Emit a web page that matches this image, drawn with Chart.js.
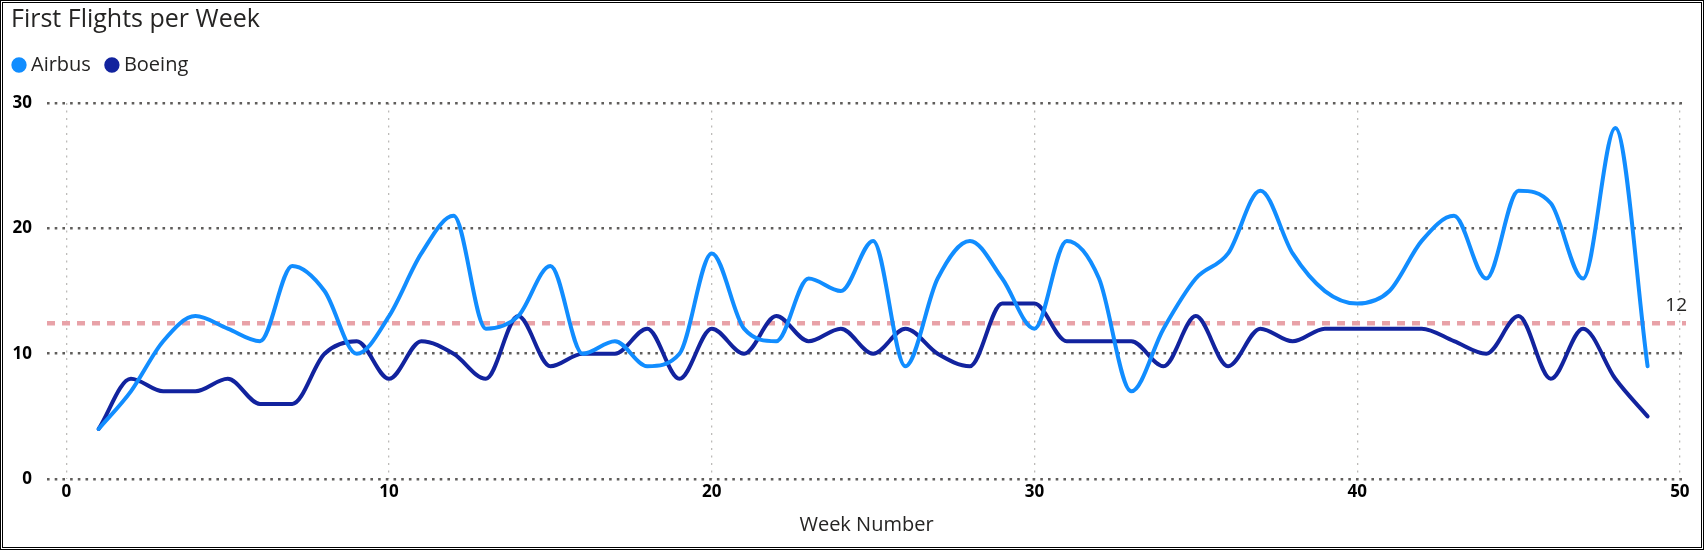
<!DOCTYPE html>
<html>
<head>
<meta charset="utf-8">
<script src="https://cdn.jsdelivr.net/npm/chart.js@4"></script>
<style>
  html, body { margin: 0; padding: 0; background: #fff; }
  #wrap { position: relative; width: 1704px; height: 550px; }
  #frame { position: absolute; left: 0; top: 0; width: 1704px; height: 550px;
           box-sizing: border-box; border: 3px double #000; pointer-events: none; }
</style>
</head>
<body>
<div id="wrap">
  <canvas id="myChart" width="1704" height="550"></canvas>
  <div id="frame"></div>
</div>
<script>
// week numbers on the x axis
var weeks = [1, 2, 3, 4, 5, 6, 7, 8, 9, 10,
  11, 12, 13, 14, 15, 16, 17, 18, 19, 20,
  21, 22, 23, 24, 25, 26, 27, 28, 29, 30,
  31, 32, 33, 34, 35, 36, 37, 38, 39, 40,
  41, 42, 43, 44, 45, 46, 47, 48, 49];

var airbus = [4, 7, 11, 13, 12, 11, 17, 15, 10, 13,
  18, 21, 12, 13, 17, 10, 11, 9, 10, 18,
  12, 11, 16, 15, 19, 9, 16, 19, 16, 12,
  19, 16, 7, 12, 16, 18, 23, 18, 15, 14,
  15, 19, 21, 16, 23, 22, 16, 28, 9];

var boeing = [4, 8, 7, 7, 8, 6, 6, 10, 11, 8,
  11, 10, 8, 13, 9, 10, 10, 12, 8, 12,
  10, 13, 11, 12, 10, 12, 10, 9, 14, 14,
  11, 11, 11, 9, 13, 9, 12, 11, 12, 12,
  12, 12, 11, 10, 13, 8, 12, 8, 5];

var xTicks = [0, 10, 20, 30, 40, 50];
var yTicks = [0, 10, 20, 30];

var chartTitle = 'First Flights per Week';

// overall average of first flights (the dashed constant line)
var allValues = airbus.concat(boeing);
var average = allValues.reduce(function (a, b) { return a + b; }, 0) / allValues.length;

var FONT = "'Segoe UI', 'Open Sans', sans-serif";
var X_MIN = -0.6, X_MAX = 50.19;

function toPoints(values) {
  return weeks.map(function (w, i) { return { x: w, y: values[i] }; });
}

// title drawn by hand so it can sit further in than the legend
var titlePlugin = {
  id: 'pbiTitle',
  afterDraw: function (chart) {
    var ctx = chart.ctx;
    ctx.save();
    ctx.font = '25px ' + FONT;
    ctx.fillStyle = '#252423';
    ctx.textAlign = 'left';
    ctx.textBaseline = 'middle';
    ctx.fillText(chartTitle, 11, 20);
    ctx.restore();
  }
};

var avgLabel = {
  id: 'avgLabel',
  afterDatasetsDraw: function (chart) {
    var ctx = chart.ctx;
    var y = chart.scales.y.getPixelForValue(average);
    ctx.save();
    ctx.font = '19px ' + FONT;
    ctx.fillStyle = '#252423';
    ctx.textAlign = 'right';
    ctx.textBaseline = 'middle';
    ctx.fillText(String(Math.round(average)), chart.chartArea.right + 1, y - 18);
    ctx.restore();
  }
};

var myChartObject = document.getElementById('myChart');

var chart = new Chart(myChartObject, {
  type: 'line',
  data: {
    datasets: [
      {
        label: 'Airbus',
        borderColor: '#118DFF',
        backgroundColor: '#118DFF',
        borderWidth: 4,
        pointRadius: 0,
        cubicInterpolationMode: 'monotone',
        borderCapStyle: 'round',
        borderJoinStyle: 'round',
        data: toPoints(airbus)
      },
      {
        label: 'Boeing',
        borderColor: '#12239E',
        backgroundColor: '#12239E',
        borderWidth: 4,
        pointRadius: 0,
        cubicInterpolationMode: 'monotone',
        borderCapStyle: 'round',
        borderJoinStyle: 'round',
        data: toPoints(boeing)
      },
      {
        label: 'Average',
        borderColor: '#E8A2A8',
        backgroundColor: 'rgba(0,0,0,0)',
        borderWidth: 4.5,
        borderDash: [8, 7],
        pointRadius: 0,
        order: 5,
        data: [{ x: X_MIN, y: average }, { x: X_MAX, y: average }]
      }
    ]
  },
  options: {
    responsive: false,
    animation: false,
    layout: { padding: { left: -2, right: 18, top: 36, bottom: 12.5 } },
    plugins: {
      title: { display: false },
      legend: {
        display: true,
        align: 'start',
        labels: {
          usePointStyle: true,
          pointStyle: 'circle',
          boxWidth: 4,
          boxHeight: 8,
          padding: 19,
          color: '#252423',
          font: { family: FONT, size: 20 },
          filter: function (item) { return item.text !== 'Average'; }
        }
      },
      tooltip: { enabled: false }
    },
    scales: {
      x: {
        type: 'linear',
        min: X_MIN,
        max: X_MAX,
        grid: { color: '#BDBBB9', lineWidth: 1.3, drawTicks: false },
        border: { display: false, dash: [2, 5.5] },
        ticks: {
          stepSize: 10,
          includeBounds: false,
          padding: 3,
          color: '#000',
          font: { family: FONT, size: 17, weight: 'bold' }
        },
        afterBuildTicks: function (s) {
          s.ticks = xTicks.map(function (v) { return { value: v }; });
        },
        title: {
          display: true,
          text: 'Week Number',
          color: '#252423',
          font: { family: FONT, size: 20 },
          padding: { top: 8, bottom: 0 }
        }
      },
      // empty top axis, only a spacer between legend and plot
      xTop: {
        type: 'linear',
        position: 'top',
        display: true,
        grid: { display: false, drawTicks: false },
        border: { display: false },
        ticks: { display: false },
        title: { display: true, text: '', font: { size: 1 }, padding: { top: 16.8, bottom: 0 } }
      },
      y: {
        min: 0,
        max: 30,
        grid: { color: '#5F5D5B', lineWidth: 2.6, drawTicks: false },
        border: { display: false, dash: [2.6, 5.1] },
        ticks: {
          stepSize: 10,
          padding: 15,
          color: '#000',
          font: { family: FONT, size: 17, weight: 'bold' }
        },
        afterBuildTicks: function (s) {
          s.ticks = yTicks.map(function (v) { return { value: v }; });
        },
        afterFit: function (s) { s.width = 49; }
      }
    }
  },
  plugins: [avgLabel, titlePlugin]
});
</script>
</body>
</html>
